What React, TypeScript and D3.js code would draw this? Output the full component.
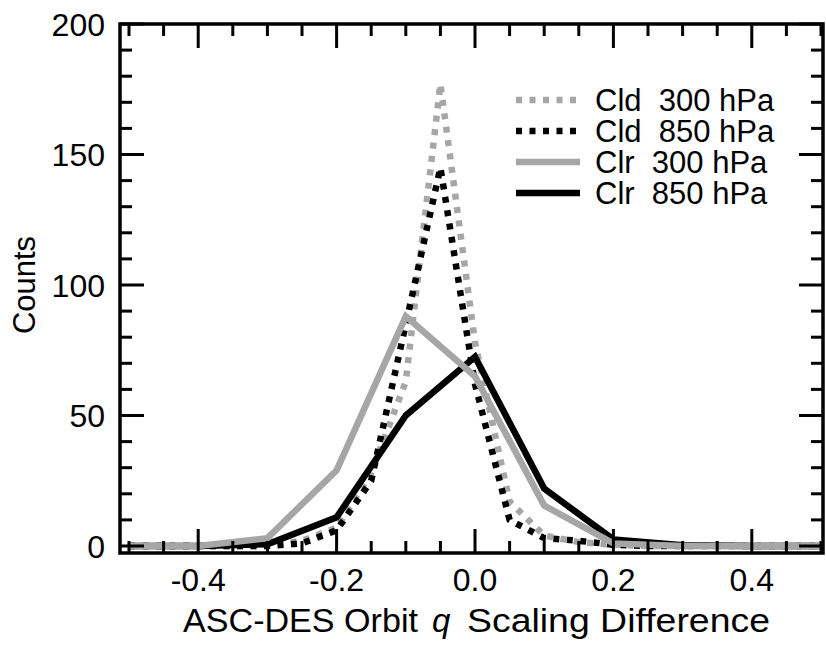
import React from "react";
import * as d3 from "d3";

// ---- data ----
const binsCoarse = [-0.5, -0.4, -0.3, -0.2, -0.1, 0.0, 0.1, 0.2, 0.3, 0.4, 0.5];
const clr300 = [0, 0, 3, 29, 88, 65, 15.5, 1, 0, 0, 0];
const clr850 = [0, 0, 0.7, 11, 50, 72.5, 22, 2.5, 0.3, 0, 0];

const binsFine = [
  -0.5, -0.45, -0.4, -0.35, -0.3, -0.25, -0.2, -0.15, -0.1, -0.05, 0.0,
  0.05, 0.1, 0.15, 0.2, 0.25, 0.3, 0.35, 0.4, 0.45, 0.5,
];
const cld300 = [0, 0, 0, 0, 0, 2, 7, 28, 63, 177, 78, 17, 4, 1.5, 0.5, 0, 0, 0, 0, 0, 0];
const cld850 = [0, 0, 0, 0, 0, 1, 6, 25, 85, 145, 62, 10, 3, 2, 0.5, 0, 0, 0, 0, 0, 0];

const seriesNames = ["Cld  300 hPa", "Cld  850 hPa", "Clr  300 hPa", "Clr  850 hPa"];
const xTickLabels = ["-0.4", "-0.2", "0.0", "0.2", "0.4"];
const xMajor = [-0.4, -0.2, 0.0, 0.2, 0.4];
const yMajor = [0, 50, 100, 150, 200];
const yTickLabels = ["0", "50", "100", "150", "200"];

const GRAY = "#a6a6a6";
const FONT = "'Liberation Sans', Arial, Helvetica, sans-serif";

export default function App() {
  const W = 826, H = 664;
  const frame = { l: 120, r: 823, t: 24, b: 553 };
  const x = d3.scaleLinear().domain([-0.5, 0.5]).range([129, 821]);
  const y = d3.scaleLinear().domain([0, 200]).range([546, 24]);

  const line = d3
    .line<[number, number]>()
    .x((d) => x(d[0]))
    .y((d) => y(d[1]));

  const pts = (xs: number[], ys: number[]) => xs.map((v, i) => [v, ys[i]] as [number, number]);

  const xMinor = d3.range(-10, 11).map((i) => i * 0.05).filter((v) => !xMajor.some((m) => Math.abs(m - v) < 1e-6));
  const yMinor = d3.range(0, 201, 10).filter((v) => v % 50 !== 0);

  const majLen = 24, minLen = 12, tw = 3;

  const series = [
    { d: pts(binsFine, cld300), color: GRAY, dash: "6 7.5" },
    { d: pts(binsFine, cld850), color: "#000", dash: "6 7.5" },
    { d: pts(binsCoarse, clr850), color: "#000", dash: null },
    { d: pts(binsCoarse, clr300), color: GRAY, dash: null },
  ];
  const legendStyle = [
    { color: GRAY, dash: "6 7.5" },
    { color: "#000", dash: "6 7.5" },
    { color: GRAY, dash: null },
    { color: "#000", dash: null },
  ];

  return (
    <svg
      width={W}
      height={H}
      style={{ position: "absolute", left: 0, top: 0, background: "#fff" }}
      fontFamily={FONT}
    >
      <rect x={0} y={0} width={W} height={H} fill="#fff" />
      {/* data lines */}
      {series.map((s, i) => (
        <path
          key={i}
          d={line(s.d) || ""}
          fill="none"
          stroke={s.color}
          strokeWidth={6.5}
          strokeDasharray={s.dash || undefined}
          strokeLinejoin="miter"
        />
      ))}
      {/* ticks */}
      <g stroke="#000" strokeWidth={tw}>
        {xMajor.map((v) => (
          <g key={"xM" + v}>
            <line x1={x(v)} x2={x(v)} y1={frame.b} y2={frame.b - majLen} />
            <line x1={x(v)} x2={x(v)} y1={frame.t} y2={frame.t + majLen} />
          </g>
        ))}
        {xMinor.map((v) => (
          <g key={"xm" + v}>
            <line x1={x(v)} x2={x(v)} y1={frame.b} y2={frame.b - minLen} />
            <line x1={x(v)} x2={x(v)} y1={frame.t} y2={frame.t + minLen} />
          </g>
        ))}
        {yMajor.map((v) => (
          <g key={"yM" + v}>
            <line x1={frame.l} x2={frame.l + majLen} y1={y(v)} y2={y(v)} />
            <line x1={frame.r} x2={frame.r - majLen} y1={y(v)} y2={y(v)} />
          </g>
        ))}
        {yMinor.map((v) => (
          <g key={"ym" + v}>
            <line x1={frame.l} x2={frame.l + minLen} y1={y(v)} y2={y(v)} />
            <line x1={frame.r} x2={frame.r - minLen} y1={y(v)} y2={y(v)} />
          </g>
        ))}
      </g>
      {/* frame */}
      <rect
        x={frame.l}
        y={frame.t}
        width={frame.r - frame.l}
        height={frame.b - frame.t}
        fill="none"
        stroke="#000"
        strokeWidth={3.5}
      />
      {/* tick labels */}
      {xMajor.map((v, i) => (
        <text key={"xl" + v} x={x(v)} y={591} textAnchor="middle" fontSize={32}>
          {xTickLabels[i]}
        </text>
      ))}
      {yMajor.map((v, i) => (
        <text key={"yl" + v} x={105} y={y(v) + 11.5} textAnchor="end" fontSize={32}>
          {yTickLabels[i]}
        </text>
      ))}
      {/* axis titles */}
      <text x={183} y={632} fontSize={33} textLength={235} lengthAdjust="spacingAndGlyphs">
        ASC-DES Orbit
      </text>
      <text x={432} y={632} fontSize={33} fontStyle="italic">
        q
      </text>
      <text x={467} y={632} fontSize={33} textLength={303} lengthAdjust="spacingAndGlyphs">
        Scaling Difference
      </text>
      <text transform="translate(35,285) rotate(-90)" textAnchor="middle" fontSize={31}>
        Counts
      </text>
      {/* legend */}
      {seriesNames.map((name, i) => {
        const ly = 100 + i * 31;
        const st = legendStyle[i];
        return (
          <g key={name}>
            <line
              x1={516}
              x2={580}
              y1={ly}
              y2={ly}
              stroke={st.color}
              strokeWidth={6.5}
              strokeDasharray={st.dash || undefined}
            />
            <text x={595} y={ly + 11} fontSize={31} style={{ whiteSpace: "pre" }}>
              {name}
            </text>
          </g>
        );
      })}
    </svg>
  );
}
